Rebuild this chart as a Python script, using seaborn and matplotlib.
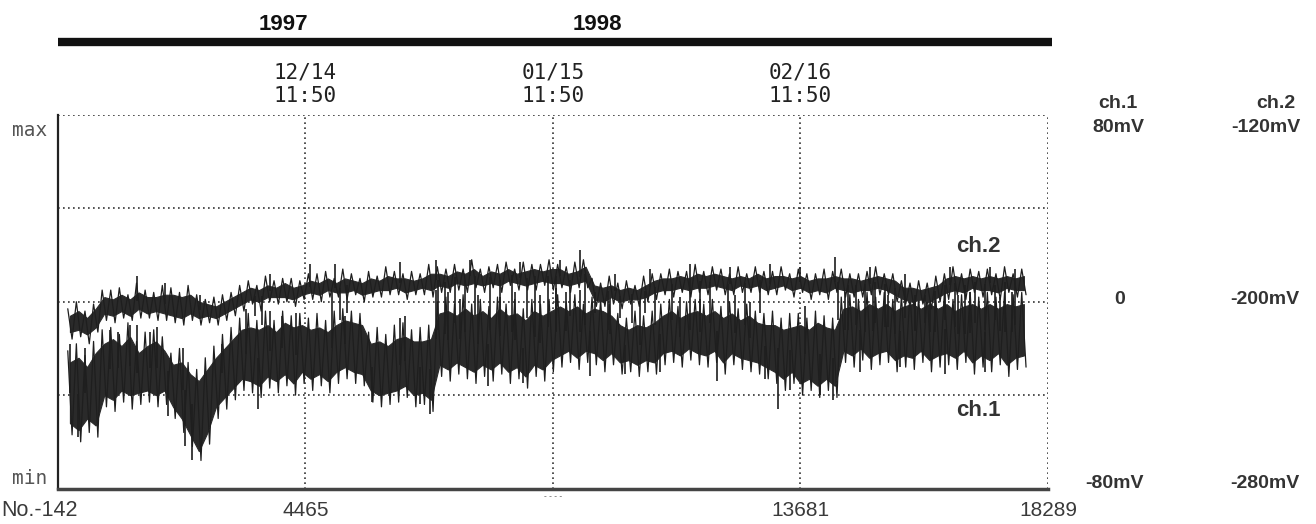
import numpy as np
import pandas as pd
import seaborn as sns
import matplotlib
matplotlib.use("Agg")
import matplotlib.pyplot as plt
import matplotlib.transforms as mtransforms

# ---------------- data -------------
bin_step = 160          # records per bin of the dense band
x_ticks = [4465, 9073, 13681, 18289]
x_tick_labels = ["4465", "- - - -", "13681", "18289"]
date_labels = [("12/14", "11:50"), ("01/15", "11:50"), ("02/16", "11:50")]
date_pos = [4465, 9073, 13681]
years = ["1997", "1998"]

# ch.1 dense core (mV, scale -80..80): upper / lower edge per bin
ch1_hi = [-26, -24, -28, -22, -18, -16, -19, -15, -22, -19, -17, -21, -27, -26, -31, -34,
          -29, -24, -20, -16, -12, -11, -12, -10, -13, -9, -11, -10, -12, -11, -13, -10,
          -8, -9, -10, -18, -17, -19, -16, -15, -17, -17, -16, -5, -4, -6, -3, -6,
          -4, -7, -3, -6, -5, -8, -4, -6, -4, -2, -4, -2, -5, -3, -4, -6,
          -10, -12, -10, -11, -9, -6, -4, -7, -5, -4, -6, -4, -7, -5, -8, -6,
          -9, -10, -10, -12, -11, -10, -12, -9, -11, -12, -3, -2, -4, -1, -3, -1,
          -4, -2, -1, -3, -1, -3, -1, -4, -2, -1, -3, -1, -3, -1, -2, -1]
ch1_lo = [-52, -55, -50, -53, -40, -42, -38, -40, -39, -38, -40, -38, -45, -50, -57, -64,
          -56, -45, -41, -37, -33, -34, -36, -32, -34, -31, -35, -30, -33, -31, -34, -30,
          -28, -30, -31, -38, -40, -39, -38, -36, -40, -39, -42, -27, -29, -26, -28, -30,
          -27, -29, -26, -30, -28, -32, -27, -29, -25, -23, -21, -24, -21, -22, -25, -22,
          -26, -25, -27, -25, -26, -22, -21, -23, -20, -22, -23, -21, -26, -22, -24, -25,
          -26, -28, -30, -33, -30, -35, -33, -36, -33, -36, -21, -23, -20, -24, -22, -21,
          -25, -23, -24, -21, -25, -23, -22, -24, -21, -26, -23, -25, -22, -27, -24, -23]
# ch.1 outer noise envelope per bin
ch1_up = [-21, -18, -23, -17, -12, -11, -14, -9, -17, -13, -12, -15, -22, -20, -26, -29,
          -24, -19, -14, -11, -7, -5, -8, -4, -8, -4, -6, -5, -7, -5, -8, -4,
          -3, -4, -5, -13, -11, -14, -10, -9, -12, -11, -10, 0, 2, -1, 3, -1,
          1, -2, 2, -1, 1, -3, 1, -1, 1, 3, 0, 3, -1, 2, 1, -1,
          -5, -7, -4, -6, -4, -1, 1, -2, 0, 1, -1, 1, -2, 0, -3, -1,
          -4, -5, -4, -7, -5, -5, -7, -4, -6, -7, 2, 3, 1, 4, 2, 4,
          1, 3, 4, 2, 4, 2, 4, 1, 3, 4, 2, 4, 2, 4, 3, 4]
ch1_dn = [-57, -60, -56, -58, -45, -47, -43, -46, -44, -43, -45, -44, -50, -56, -62, -68,
          -61, -50, -46, -42, -38, -39, -41, -37, -39, -36, -40, -35, -38, -36, -39, -35,
          -33, -35, -36, -43, -45, -44, -43, -41, -45, -44, -47, -32, -34, -31, -33, -35,
          -32, -34, -31, -35, -33, -37, -32, -34, -30, -28, -26, -29, -26, -27, -30, -27,
          -31, -30, -32, -30, -31, -27, -26, -28, -25, -27, -28, -26, -31, -27, -29, -30,
          -31, -33, -35, -38, -35, -40, -38, -41, -38, -41, -26, -28, -25, -29, -27, -26,
          -30, -28, -29, -26, -30, -28, -27, -29, -26, -31, -28, -30, -27, -32, -29, -28]

# ch.1 isolated spikes: record number, peak value (mV)
ch1_spike_rec = [82, 230, 360, 826, 975, 1198, 1329, 1571, 1701, 1906, 2185, 2222, 2353,
                 2911, 3358, 3582, 3805, 4029, 4289, 4960, 5201, 5704, 6225, 6318, 6597,
                 6784, 6896, 7119, 7343, 7678, 7864, 8087, 8367, 8516, 8832, 9130, 9316,
                 9577, 9763, 10135, 10415, 10694, 11066, 11439, 11811, 12128, 12463, 12742,
                 13021, 13263, 13487, 13766, 14045, 14287, 14510, 14790, 15032, 15311,
                 15535, 15814, 16093, 16373, 16615, 16838, 17117, 17396, 17620]
ch1_spike_mv = [-18, -58, -20, -12, -13, -10, -10, -13, -11, -49, -20, -62, -68,
                -18, -3, -46, -4, -6, -5, 5, -6, -43, -7, -6, -44,
                -48, 5, 4, 1, 3, -36, 2, 4, -35, 3, 6, 4,
                5, -32, 2, -31, 3, -30, 2, 1, -34, 3, 0,
                -33, -46, -38, -2, -40, -42, 4, -30, 5, 3,
                -28, 4, 2, -31, 3, 4, -30, 2, 4]

# ch.2 dense core (mV, scale -280..-120)
ch2_hi = [-206, -204, -207, -203, -198, -199, -197, -199, -196, -198, -198, -197, -197, -198, -197, -200,
          -201, -202, -200, -198, -196, -194, -195, -193, -194, -192, -194, -193, -191, -192, -190, -192,
          -190, -191, -192, -190, -191, -189, -190, -190, -191, -190, -188, -188, -189, -187, -188, -186,
          -189, -187, -188, -186, -188, -187, -186, -187, -186, -186, -188, -187, -185, -193, -194, -193,
          -195, -194, -195, -193, -191, -190, -190, -189, -190, -188, -189, -188, -189, -190, -189, -190,
          -188, -190, -189, -189, -190, -189, -191, -190, -190, -189, -190, -190, -191, -190, -189, -190,
          -191, -194, -194, -195, -194, -193, -190, -189, -190, -189, -190, -189, -190, -189, -190, -189]
ch2_lo = [-213, -212, -214, -211, -205, -206, -204, -206, -203, -205, -204, -205, -206, -207, -205, -207,
          -206, -207, -205, -203, -201, -199, -200, -198, -198, -198, -199, -197, -196, -197, -195, -196,
          -196, -195, -197, -196, -195, -195, -194, -196, -195, -194, -195, -193, -194, -192, -193, -192,
          -193, -192, -193, -191, -192, -193, -192, -191, -192, -192, -193, -192, -191, -199, -200, -198,
          -200, -199, -199, -198, -196, -195, -195, -194, -195, -194, -194, -193, -194, -195, -193, -194,
          -193, -195, -194, -193, -195, -194, -196, -195, -196, -194, -195, -196, -195, -195, -194, -195,
          -197, -199, -200, -199, -200, -198, -196, -195, -196, -194, -195, -195, -196, -194, -195, -195]
# ch.2 outer noise envelope per bin
ch2_up = [-203, -200, -204, -201, -195, -195, -194, -197, -192, -195, -196, -193, -194, -196, -193, -197,
          -199, -198, -197, -196, -193, -191, -193, -189, -191, -190, -190, -191, -188, -188, -187, -190,
          -186, -188, -190, -187, -189, -185, -187, -188, -187, -188, -184, -185, -186, -184, -186, -182,
          -186, -185, -184, -183, -186, -183, -184, -184, -182, -184, -185, -183, -182, -190, -192, -189,
          -192, -191, -193, -189, -188, -188, -186, -187, -187, -184, -187, -185, -186, -188, -185, -188,
          -185, -187, -187, -185, -188, -186, -188, -188, -186, -187, -186, -188, -188, -187, -185, -188,
          -188, -191, -192, -191, -192, -189, -188, -185, -188, -186, -187, -186, -188, -185, -188, -186]
ch2_dn = [-216, -215, -218, -213, -208, -209, -207, -208, -207, -207, -208, -208, -209, -210, -208, -210,
          -209, -210, -208, -206, -204, -201, -204, -200, -201, -200, -202, -199, -199, -200, -198, -198,
          -199, -197, -200, -198, -198, -197, -197, -199, -197, -197, -198, -196, -196, -195, -196, -194,
          -196, -194, -196, -193, -195, -195, -195, -193, -195, -194, -196, -194, -194, -202, -202, -201,
          -203, -201, -202, -200, -199, -197, -198, -196, -198, -196, -197, -195, -197, -197, -196, -196,
          -196, -197, -197, -195, -198, -196, -199, -197, -199, -196, -198, -198, -198, -197, -197, -197,
          -200, -201, -203, -201, -203, -200, -199, -197, -199, -196, -198, -197, -199, -196, -198, -197]

# ch.2 isolated spikes: record number, peak value (mV)
ch2_spike_rec = [1329, 1850, 2502, 3805, 4550, 5015, 6225, 6896, 7529, 8460, 9204, 9577,
                 10228, 10880, 11625, 12370, 13114, 13673, 14324, 14976, 15628, 16466, 17210,
                 17675, 3526, 3656, 5108, 5238, 6933, 7063, 7250, 7436, 7622, 7901, 8087, 8311,
                 8590, 8739, 8981, 9130, 9391, 9670, 9856, 10098, 10321, 10545, 10787, 10973,
                 11290, 11625, 11811, 11997, 12333, 12649, 12928, 14380, 14566, 14715, 14883,
                 15069, 15255, 15442, 15628, 15814, 16000, 16186, 16373, 16559, 16745, 16931,
                 17117, 17303, 17489, 17675]
ch2_spike_mv = [-189, -192, -197, -188, -184, -184, -183, -182, -182, -183, -182, -178,
                -188, -186, -184, -185, -184, -185, -181, -185, -188, -185, -185,
                -186, -206, -210, -208, -205, -212, -214, -209, -213, -206, -212, -208, -213,
                -207, -215, -211, -213, -206, -210, -205, -212, -207, -209, -205, -210,
                -208, -212, -206, -209, -207, -210, -205, -208, -212, -210, -213,
                -209, -211, -214, -207, -212, -209, -213, -208, -211, -214, -209,
                -212, -208, -213, -210]


def band_frame(hi, lo):
    n = len(hi)
    rec = np.arange(n) * bin_step + bin_step / 2
    return pd.DataFrame({"rec": rec, "hi": hi, "lo": lo})


def zig_frame(up, dn):
    n = len(up)
    start = np.arange(n) * bin_step
    xs = np.empty(2 * n)
    ys = np.empty(2 * n)
    xs[0::2] = start + bin_step * 0.25
    xs[1::2] = start + bin_step * 0.75
    ys[0::2] = up
    ys[1::2] = dn
    return pd.DataFrame({"rec": xs, "mv": ys})


# ---------------- figure ----------------
sns.set_theme(style="white")
plt.rcParams['font.family'] = ['DejaVu Sans']

W, H = 1316, 524
fig = plt.figure(figsize=(W / 100, H / 100), dpi=100)
fig.patch.set_facecolor("white")
ax = fig.add_axes([58 / W, 1 - 488.5 / H, 990 / W, 373.5 / H])
ax.set_facecolor("white")
ax2 = ax.twinx()

trace_col = "#1e1e1e"


def draw_channel(a, hi, lo, up, dn, sp_rec, sp_mv):
    band = band_frame(hi, lo)
    zig = zig_frame(up, dn)
    a.fill_between(band["rec"], band["lo"], band["hi"], color="#2a2a2a",
                   linewidth=0.8, edgecolor="#2a2a2a", zorder=3)
    sns.lineplot(data=zig, x="rec", y="mv", ax=a, sort=False, estimator=None,
                 color=trace_col, linewidth=0.9, zorder=3)
    idx = np.clip((np.asarray(sp_rec) // bin_step).astype(int), 0, len(hi) - 1)
    base = (np.asarray(hi)[idx] + np.asarray(lo)[idx]) / 2.0
    a.vlines(sp_rec, base, sp_mv, color=trace_col, linewidth=1.2, zorder=3)


draw_channel(ax, ch1_hi, ch1_lo, ch1_up, ch1_dn, ch1_spike_rec, ch1_spike_mv)
draw_channel(ax2, ch2_hi, ch2_lo, ch2_up, ch2_dn, ch2_spike_rec, ch2_spike_mv)

ax.set_xlim(-142, 18289)
ax.set_ylim(-80, 80)
ax2.set_ylim(-280, -120)
for a in (ax, ax2):
    a.set_xlabel("")
    a.set_ylabel("")
    a.set_xticks([])
    a.set_yticks([])
    a.grid(False)
    for s in a.spines.values():
        s.set_visible(False)

grid_kw = dict(color="#333333", linestyle=(0, (1, 2)), linewidth=1.2, zorder=1)
for yv in [80, 40, 0, -40]:
    ax.axhline(yv, **grid_kw)
for xv in x_ticks:
    ax.axvline(xv, **grid_kw)
ax.spines["left"].set_visible(True)
ax.spines["left"].set_color("#222222")
ax.spines["left"].set_linewidth(1.6)
ax.spines["bottom"].set_visible(True)
ax.spines["bottom"].set_color("#444444")
ax.spines["bottom"].set_linewidth(2.5)

mono = "DejaVu Sans Mono"
sans = ['Liberation Sans', 'DejaVu Sans']
txt_col = "#222222"

# bottom labels
bt = mtransforms.blended_transform_factory(ax.transData, fig.transFigure)
for xv, lab in zip(x_ticks, x_tick_labels):
    if lab.startswith("-"):
        ax.text(xv, 1 - 497 / H, lab, transform=bt, ha="center", va="center",
                fontsize=6, color="#444444", family=sans)
    else:
        ax.text(xv, 1 - 510 / H, lab, transform=bt, ha="center", va="center",
                fontsize=15, color="#3a3a3a", family=sans)
fig.text(1 / W, 1 - 510 / H, "No.-142", ha="left", va="center",
         fontsize=15.5, color="#3a3a3a", family=sans)

# top date labels
for xv, (l1, l2) in zip(date_pos, date_labels):
    ax.text(xv, 1 - 73 / H, l1, transform=bt, ha="center", va="center",
            fontsize=15, color=txt_col, family=mono)
    ax.text(xv, 1 - 96 / H, l2, transform=bt, ha="center", va="center",
            fontsize=15, color=txt_col, family=mono)

# max / min
fig.text(12 / W, 1 - 131 / H, "max", ha="left", va="center", fontsize=14,
         color="#555555", family=mono)
fig.text(12 / W, 1 - 478 / H, "min", ha="left", va="center", fontsize=14,
         color="#555555", family=mono)

# year bar
fig.add_artist(plt.Line2D([58 / W, 1052 / W], [1 - 42 / H, 1 - 42 / H],
                          transform=fig.transFigure, color="#111111", linewidth=6,
                          solid_capstyle="butt"))
fig.text(283 / W, 1 - 24 / H, years[0], ha="center", va="center", fontsize=16,
         fontweight="bold", color="#111111", family=sans)
fig.text(597 / W, 1 - 24 / H, years[1], ha="center", va="center", fontsize=16,
         fontweight="bold", color="#111111", family=sans)

# in-plot channel labels
lab_kw = dict(ha="center", va="center", fontsize=16, fontweight="bold",
              color="#333333", family=sans)
fig.text(978 / W, 1 - 246 / H, "ch.2", **lab_kw)
fig.text(978 / W, 1 - 410 / H, "ch.1", **lab_kw)

# right-hand scale labels
right_kw = dict(ha="center", va="center", fontsize=14, fontweight="bold",
                color="#333333", family=sans)
fig.text(1118 / W, 1 - 104 / H, "ch.1", **right_kw)
fig.text(1276 / W, 1 - 104 / H, "ch.2", **right_kw)
fig.text(1118 / W, 1 - 128 / H, "80mV", **right_kw)
fig.text(1266 / W, 1 - 128 / H, "-120mV", **right_kw)
fig.text(1120 / W, 1 - 300 / H, "0", **right_kw)
fig.text(1265 / W, 1 - 300 / H, "-200mV", **right_kw)
fig.text(1115 / W, 1 - 484 / H, "-80mV", **right_kw)
fig.text(1265 / W, 1 - 484 / H, "-280mV", **right_kw)

fig.savefig("out.png", dpi=100, facecolor="white")
